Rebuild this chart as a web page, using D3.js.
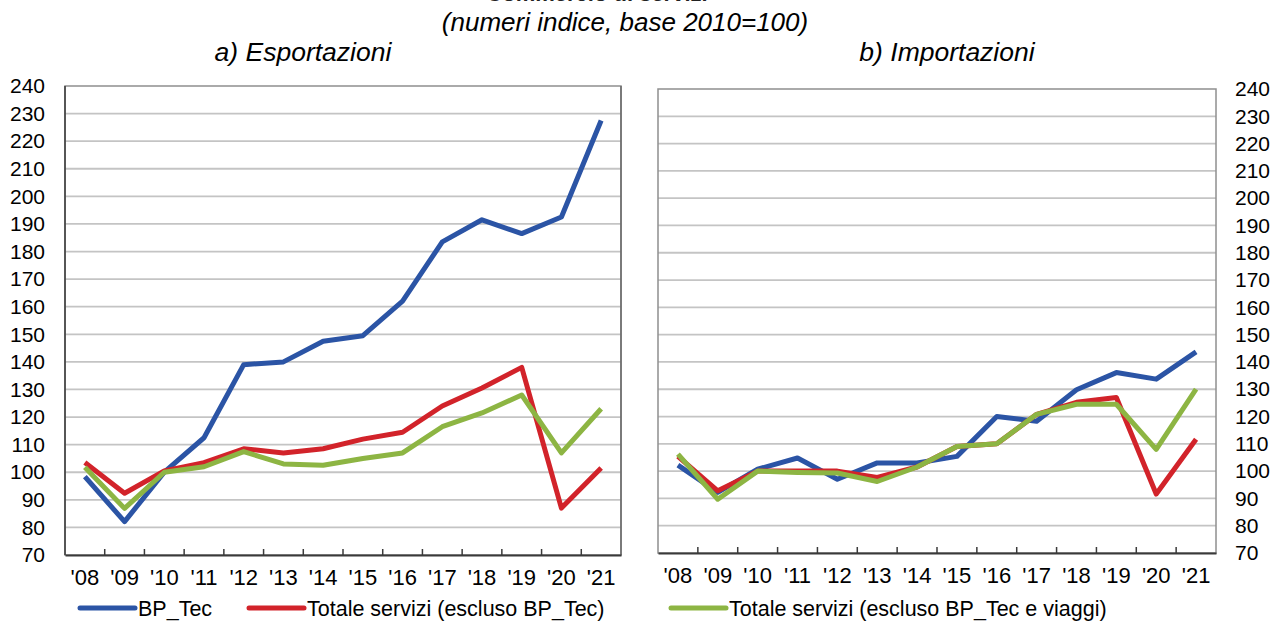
<!DOCTYPE html>
<html>
<head>
<meta charset="utf-8">
<script src="https://cdn.jsdelivr.net/npm/d3@7"></script>
<style>
  body { margin: 0; background: #fff; }
  svg { display: block; font-family: "Liberation Sans", Arial, sans-serif; }
</style>
</head>
<body>
<svg id="chart" width="1281" height="621"></svg>
<script>
// categories and ticks
const years = ["'08", "'09", "'10", "'11", "'12", "'13", "'14", "'15", "'16", "'17", "'18", "'19", "'20", "'21"];
const yTicks = [70, 80, 90, 100, 110, 120, 130, 140, 150, 160, 170, 180, 190, 200, 210, 220, 230, 240];

// a) Esportazioni
const expBpTec     = [98.4, 82.1, 100, 112.5, 139, 140, 147.5, 149.5, 162, 183.5, 191.5, 186.5, 192.5, 227.5];
const expTotale    = [103.5, 92.4, 100.5, 103.5, 108.5, 107, 108.5, 112, 114.5, 124, 130.5, 138, 87, 101.5];
const expNoViaggi  = [101.8, 86.9, 100, 102, 107.5, 103, 102.5, 105, 107, 116.5, 121.5, 128, 107, 123];

// b) Importazioni
const impBpTec     = [102.2, 92.2, 100.7, 104.8, 97, 103, 103, 105.4, 120, 118.3, 129.8, 136.1, 133.7, 143.7];
const impTotale    = [105.4, 92.8, 100, 100, 100, 97.7, 101.5, 109, 110, 120.8, 125.2, 127, 91.6, 111.7];
const impNoViaggi  = [106.2, 89.7, 100, 99.5, 99.3, 96.2, 101.5, 109, 110, 120.8, 124.5, 124.5, 108, 130];

const seriesNames = ["BP_Tec", "Totale servizi (escluso BP_Tec)", "Totale servizi (escluso BP_Tec e viaggi)"];
const seriesColors = ["#2b54a5", "#d2232a", "#8db543"];

const svg = d3.select("#chart");

// titles (main title is cut at the top edge, as in the source picture)
svg.append("text").attr("x", 597).attr("y", 1).attr("text-anchor", "middle")
  .style("font-size", "22px").style("font-weight", "bold")
  .attr("fill", "#222").text("Commercio di servizi");
svg.append("text").attr("x", 625).attr("y", 31).attr("text-anchor", "middle")
  .style("font-size", "26px").style("font-style", "italic").text("(numeri indice, base 2010=100)");

function drawPanel(cfg, data) {
  const w = cfg.right - cfg.left, h = cfg.bottom - cfg.top;
  const g = svg.append("g").attr("transform", `translate(${cfg.left},${cfg.top})`);

  const x = d3.scaleBand().domain(years).range([0, w]).padding(0);
  const y = d3.scaleLinear().domain([70, 240]).range([h, 0]);

  svg.append("text").attr("x", cfg.titleX).attr("y", 61)
    .attr("text-anchor", "middle").style("font-size", "26.5px").style("font-style", "italic")
    .text(cfg.title);

  // gridlines
  g.selectAll(".grid").data(yTicks.slice(1, -1)).join("line")
    .attr("x1", 0).attr("x2", w)
    .attr("y1", d => y(d)).attr("y2", d => y(d))
    .attr("stroke", "#c4c4c4").attr("stroke-width", 1.8);

  // y labels
  const yAxis = cfg.axisRight
    ? d3.axisRight(y).tickValues(yTicks).tickSize(0).tickPadding(19)
    : d3.axisLeft(y).tickValues(yTicks).tickSize(0).tickPadding(20);
  const ya = g.append("g").attr("transform", cfg.axisRight ? `translate(${w},0)` : null).call(yAxis);
  ya.select(".domain").remove();
  ya.selectAll("text").style("font-size", "21px").attr("fill", "#000");

  // frame
  g.append("rect").attr("width", w).attr("height", h)
    .attr("fill", "none").attr("stroke", "#8f8f8f").attr("stroke-width", 1.5);
  if (!cfg.axisRight) {
    g.append("line").attr("x1", 0).attr("x2", 0).attr("y1", 0).attr("y2", h)
      .attr("stroke", "#3a3a3a").attr("stroke-width", 1.5);
    g.append("line").attr("x1", w).attr("x2", w).attr("y1", 0).attr("y2", h)
      .attr("stroke", "#6a6a6a").attr("stroke-width", 1.5);
  }

  // x axis
  const xa = g.append("g").attr("transform", `translate(0,${h})`)
    .call(d3.axisBottom(x).tickSize(0).tickPadding(14));
  xa.select(".domain").attr("stroke", "#3a3a3a").attr("stroke-width", 2);
  xa.selectAll("text").style("font-size", "22px").attr("fill", "#000");
  g.selectAll(".xtick").data(years.slice(1)).join("line")
    .attr("x1", d => x(d)).attr("x2", d => x(d))
    .attr("y1", h).attr("y2", h - 6)
    .attr("stroke", "#3a3a3a").attr("stroke-width", 1.5);

  const line = d3.line()
    .x((d, i) => x(years[i]) + x.bandwidth() / 2)
    .y(d => y(d));

  data.forEach((s, k) => {
    g.append("path").datum(s).attr("d", line)
      .attr("fill", "none").attr("stroke", seriesColors[k])
      .attr("stroke-width", 5).attr("stroke-linejoin", "round");
  });
}

drawPanel({ left: 65, right: 621, top: 86, bottom: 555, title: "a) Esportazioni", titleX: 303, axisRight: false },
  [expBpTec, expTotale, expNoViaggi]);
drawPanel({ left: 658, right: 1216, top: 89, bottom: 553, title: "b) Importazioni", titleX: 947, axisRight: true },
  [impBpTec, impTotale, impNoViaggi]);

// legend
const legendPos = [{ x: 80, y: 608 }, { x: 249, y: 608 }, { x: 671, y: 608 }];
const leg = svg.append("g").selectAll("g").data(seriesNames).join("g")
  .attr("transform", (d, i) => `translate(${legendPos[i].x},${legendPos[i].y})`);
leg.append("line").attr("x1", 0).attr("x2", 55)
  .attr("stroke", (d, i) => seriesColors[i]).attr("stroke-width", 5).attr("stroke-linecap", "round");
leg.append("text").attr("x", 58).attr("dy", "0.35em")
  .style("font-size", "21.5px").text(d => d);
</script>
</body>
</html>
